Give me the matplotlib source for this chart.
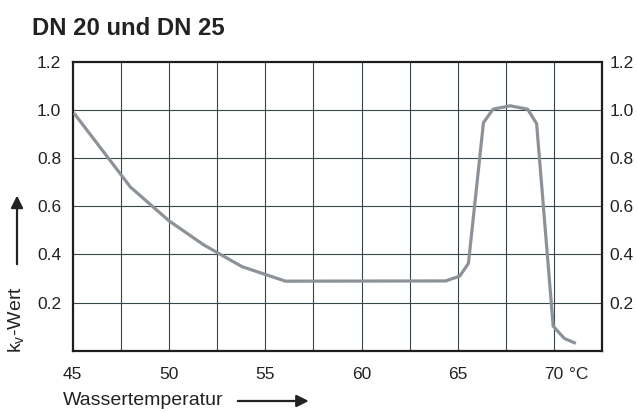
import matplotlib
matplotlib.use("Agg")
import matplotlib.pyplot as plt

plt.rcParams['font.family'] = ['Liberation Sans', 'DejaVu Sans']

# Kennlinie kv-Wert über Wassertemperatur
temp = [45.12, 48.0, 50.0, 51.8, 53.8, 56.05, 64.37, 65.1, 65.55,
        66.33, 66.83, 67.72, 68.62, 69.09, 69.95, 70.53, 71.05]
kv = [0.982, 0.68, 0.54, 0.44, 0.349, 0.289, 0.29, 0.31, 0.363,
      0.948, 1.004, 1.018, 1.004, 0.944, 0.102, 0.051, 0.033]

x_ticks = [45, 50, 55, 60, 65, 70]
x_grid = [47.5, 50, 52.5, 55, 57.5, 60, 62.5, 65, 67.5, 70]
y_ticks = [0.2, 0.4, 0.6, 0.8, 1.0, 1.2]

fig = plt.figure(figsize=(6.37, 4.12), dpi=100)
ax = fig.add_axes([0.1141, 0.1488, 0.8314, 0.7007])

for xg in x_grid:
    ax.axvline(xg, color='#37474b', lw=0.8, zorder=1)
for yg in y_ticks[:-1]:
    ax.axhline(yg, color='#37474b', lw=0.8, zorder=1)

ax.plot(temp, kv, color='#8c9298', lw=2.3, zorder=3)

ax.set_xlim(45, 72.5)
ax.set_ylim(0, 1.2)
ax.set_xticks(x_ticks)
ax.set_xticklabels([str(t) for t in x_ticks])
ax.set_yticks(y_ticks)
ax.set_yticklabels(['%.1f' % v for v in y_ticks])
ax.tick_params(axis='x', length=0, pad=12, labelsize=12.5, colors='#222222')
ax.tick_params(axis='y', length=0, pad=8.4, labelsize=12.5, colors='#222222',
               right=True, labelright=True)

# rechte Beschriftung etwas dichter am Rahmen
for t in ax.yaxis.get_major_ticks():
    t.set_pad(8.4)
    t.label2.set_transform(t.label2.get_transform() +
                           matplotlib.transforms.ScaledTranslation(-3 / 72, 0, fig.dpi_scale_trans))

for s in ax.spines.values():
    s.set_linewidth(1.6)
    s.set_color('#1e1e1e')

# Einheit hinter der 70
ax.annotate('°C', xy=(70, 0), xycoords=('data', 'axes fraction'),
            xytext=(10.5, -12), textcoords='offset points',
            ha='left', va='top', fontsize=12.5, color='#222222')

fig.text(0.050, 0.958, 'DN 20 und DN 25', fontsize=17.2, fontweight='bold',
         color='#222222', ha='left', va='top')

fig.text(0.0267, 0.223, r'k$_\mathregular{v}$-Wert', rotation=90, fontsize=14,
         color='#222222', ha='center', va='center')
fig.text(0.099, 0.0267, 'Wassertemperatur', fontsize=14, color='#222222',
         ha='left', va='center')

ax.annotate('', xy=(0.0267, 0.532), xytext=(0.0267, 0.352),
            xycoords='figure fraction', textcoords='figure fraction',
            arrowprops=dict(arrowstyle='-|>', color='#222222', lw=1.6,
                            mutation_scale=18))
ax.annotate('', xy=(0.489, 0.0267), xytext=(0.369, 0.0267),
            xycoords='figure fraction', textcoords='figure fraction',
            arrowprops=dict(arrowstyle='-|>', color='#222222', lw=1.6,
                            mutation_scale=18))

fig.savefig('out.png', dpi=100)
